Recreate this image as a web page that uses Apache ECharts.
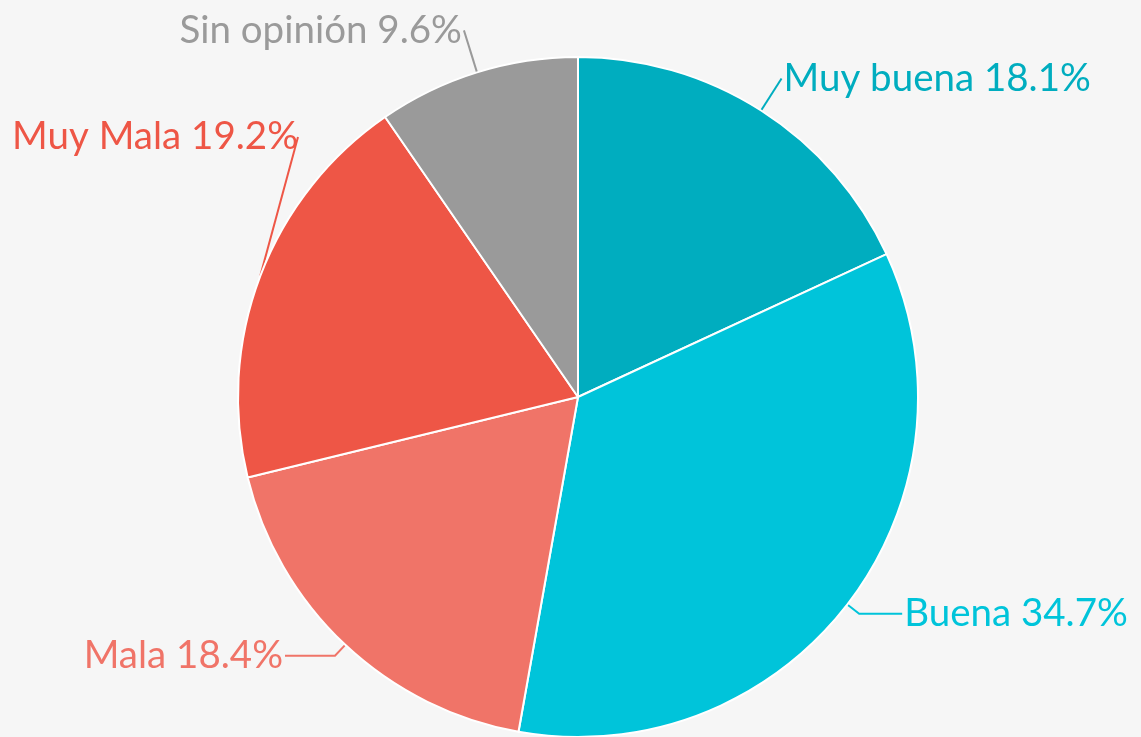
<!DOCTYPE html>
<html>
<head>
<meta charset="utf-8">
<script src="https://cdn.jsdelivr.net/npm/echarts@6/dist/echarts.min.js"></script>
<style>
    html, body { margin: 0; padding: 0; background: #f6f6f6; }
    #main { width: 1141px; height: 737px; }
</style>
</head>
<body>
<div id="main"></div>
<script>
    // opinion categories, clockwise from the top
    var categories = ['Muy buena', 'Buena', 'Mala', 'Muy Mala', 'Sin opinión'];
    var percents = [18.1, 34.7, 18.4, 19.2, 9.6];
    var colors = ['#00adbf', '#00c4da', '#f07468', '#ee5646', '#9a9a9a'];
    // leader line lengths per slice
    var lineLen = [38, 15, 15, 15, 44];
    var lineLen2 = [0, 43, 50, 10, 0];

    var data = [];
    for (var i = 0; i < categories.length; i++) {
        data.push({
            name: categories[i],
            value: percents[i],
            itemStyle: { color: colors[i] },
            label: { color: colors[i] },
            labelLine: { length: lineLen[i], length2: lineLen2[i], lineStyle: { color: colors[i] } }
        });
    }

    var chart = echarts.init(document.getElementById('main'));
    chart.setOption({
        backgroundColor: '#f6f6f6',
        animation: false,
        series: [{
            type: 'pie',
            center: [578, 397],
            radius: 340,
            startAngle: 90,
            clockwise: true,
            avoidLabelOverlap: false,
            itemStyle: { borderColor: '#ffffff', borderWidth: 2 },
            label: {
                show: true,
                position: 'outside',
                fontFamily: 'Lato, "Noto Sans", sans-serif',
                fontWeight: 'normal',
                fontSize: 38.5,
                bleedMargin: 0,
                distanceToLabelLine: 2,
                formatter: function (p) { return p.name + ' ' + p.value.toFixed(1) + '%'; }
            },
            labelLine: { show: true, lineStyle: { width: 2 } },
            labelLayout: function (params) {
                // the "Muy Mala" label sits up and to the right of its slice
                if (params.dataIndex === 3) {
                    return { x: 298, y: 137 };
                }
            },
            data: data
        }]
    });
</script>
</body>
</html>
